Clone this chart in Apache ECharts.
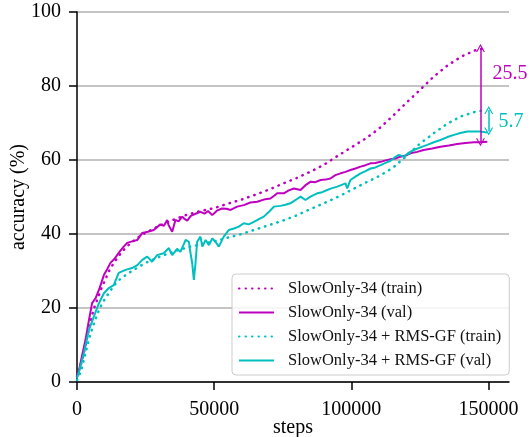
<!DOCTYPE html>
<html>
<head>
<meta charset="utf-8">
<script src="https://cdn.jsdelivr.net/npm/echarts@6/dist/echarts.min.js"></script>
<style>
html, body { margin: 0; padding: 0; background: #fff; }
#main { width: 532px; height: 437px; }
</style>
</head>
<body>
<div id="main"></div>
<script>
// tick labels
var xTicks = [0, 50000, 100000, 150000];
var yTicks = [0, 20, 40, 60, 80, 100];

var seriesNames = ['SlowOnly-34 (train)', 'SlowOnly-34 (val)', 'SlowOnly-34 + RMS-GF (train)', 'SlowOnly-34 + RMS-GF (val)'];

// SlowOnly-34 train (dotted magenta)
var slowTrainSteps = [0, 1500, 3000, 4500, 6000, 7500, 9000, 10500, 12000, 14000, 16000, 18000, 20000, 22500, 25000, 27500, 30000, 32500, 35000, 37500, 40000, 45000, 50000, 55000, 60000, 65000, 70000, 75000, 80000, 85000, 90000, 95000, 100000, 105000, 110000, 115000, 120000, 125000, 130000, 135000, 140000, 145000, 149000];
var slowTrain = [1.5, 5.0, 9.5, 15.0, 19.5, 22.5, 25.5, 28.0, 30.5, 32.8, 34.8, 36.5, 37.8, 39.2, 40.3, 41.3, 42.2, 43.0, 43.8, 44.5, 45.2, 46.2, 47.0, 48.2, 49.3, 50.6, 52.0, 53.6, 55.1, 56.8, 58.7, 61.1, 63.4, 65.7, 68.4, 71.8, 75.4, 78.9, 82.5, 85.5, 87.9, 89.6, 90.3];

// SlowOnly-34 val (solid magenta)
var slowValSteps = [0, 600, 1800, 3100, 4300, 5500, 6800, 8300, 9800, 11000, 12200, 13700, 15200, 16800, 18300, 20100, 22000, 23800, 25800, 28000, 30400, 31700, 32900, 33400, 34700, 35900, 37000, 38400, 39300, 40200, 41500, 43000, 45000, 46500, 47800, 49300, 51000, 52900, 54500, 56000, 58400, 60800, 63200, 65700, 68100, 70500, 72000, 73000, 75400, 77200, 79100, 81500, 83300, 85100, 86900, 88800, 90600, 92400, 94200, 96100, 97900, 99700, 101500, 103400, 105200, 107000, 108800, 110700, 112500, 114300, 116100, 117900, 119800, 121600, 124000, 126400, 129500, 132500, 135600, 138600, 141600, 144700, 147100, 149600];
var slowVal = [2.0, 2.7, 7.0, 11.4, 16.5, 21.3, 22.7, 25.5, 28.9, 30.5, 32.2, 33.3, 34.9, 36.4, 37.6, 38.0, 38.4, 40.3, 40.6, 41.1, 42.6, 42.2, 43.8, 42.4, 40.6, 43.8, 43.4, 44.7, 44.0, 43.6, 44.9, 45.4, 46.0, 45.5, 46.2, 45.1, 46.3, 46.9, 46.8, 46.5, 47.4, 47.8, 48.5, 48.7, 49.3, 49.6, 50.4, 51.0, 51.0, 51.8, 52.3, 51.9, 53.2, 54.1, 54.0, 54.6, 54.7, 55.0, 55.9, 56.4, 56.8, 57.3, 57.7, 58.2, 58.6, 59.1, 59.2, 59.5, 59.9, 60.2, 60.4, 60.9, 61.2, 61.8, 62.2, 62.7, 63.1, 63.6, 63.9, 64.3, 64.6, 64.8, 64.8, 64.9];

// SlowOnly-34 + RMS-GF train (dotted cyan)
var rmsTrainSteps = [0, 1500, 3000, 4500, 6000, 7500, 9000, 10500, 12000, 14000, 16000, 18000, 20000, 25000, 30000, 35000, 40000, 45000, 50000, 55000, 60000, 65000, 70000, 75000, 80000, 85000, 90000, 95000, 100000, 105000, 110000, 115000, 120000, 125000, 130000, 135000, 140000, 145000, 149000];
var rmsTrain = [0.5, 3.0, 7.5, 12.0, 15.5, 18.5, 21.0, 22.8, 24.5, 26.5, 28.0, 29.0, 30.0, 32.2, 33.8, 35.2, 36.3, 37.2, 38.0, 39.0, 40.0, 41.2, 42.4, 43.6, 45.0, 46.7, 48.3, 50.0, 51.9, 53.8, 55.6, 57.8, 61.0, 64.4, 67.2, 69.8, 71.8, 73.0, 73.5];

// SlowOnly-34 + RMS-GF val (solid cyan)
var rmsValSteps = [0, 1000, 2500, 4300, 6100, 8000, 9800, 11600, 13400, 15200, 17700, 20100, 22000, 23800, 25600, 27400, 29200, 31600, 33500, 34700, 36500, 37700, 38800, 39600, 40800, 41400, 42000, 42600, 43200, 43800, 45000, 45700, 46900, 48100, 49300, 50500, 51700, 53500, 55400, 57200, 59000, 60800, 62600, 64500, 66300, 68100, 70000, 71800, 74200, 76000, 77800, 79700, 81500, 83300, 85100, 87600, 89400, 91200, 93000, 94900, 97900, 98500, 99700, 101500, 103400, 105200, 107000, 108800, 110700, 112500, 114300, 116000, 117300, 119200, 121000, 122800, 125200, 127700, 130100, 132500, 135000, 137400, 139800, 142300, 144700, 147100, 149600];
var rmsVal = [1.0, 3.5, 7.8, 14.0, 17.6, 21.3, 24.0, 25.4, 26.2, 29.5, 30.3, 30.8, 31.6, 33.0, 33.9, 32.5, 34.3, 34.8, 36.2, 34.3, 36.0, 35.2, 37.0, 38.4, 37.9, 34.8, 32.1, 27.6, 32.1, 37.9, 39.3, 36.6, 38.4, 37.0, 38.8, 37.9, 36.6, 39.3, 41.1, 41.5, 42.0, 42.9, 42.6, 43.3, 44.0, 44.7, 46.0, 47.4, 47.6, 47.9, 48.3, 49.2, 50.1, 49.2, 50.1, 51.0, 51.3, 51.9, 52.4, 52.8, 53.7, 52.3, 54.6, 55.5, 56.4, 57.0, 57.7, 58.0, 58.6, 59.2, 59.8, 60.8, 61.4, 60.9, 62.0, 62.7, 63.4, 64.1, 64.8, 65.4, 66.2, 66.8, 67.3, 67.7, 67.7, 67.7, 67.4];

// gap annotations: [step, low, high], label, label position [step, value]
var slowGap = [147100, 64.8, 90.3];
var slowGapText = '25.5';
var slowGapLabelAt = [151500, 83.4];
var rmsGap = [150100, 67.7, 73.5];
var rmsGapText = '5.7';
var rmsGapLabelAt = [153700, 70.4];

var MAGENTA = '#bf00bf';
var CYAN = '#00bfbf';
var FONT = 'Liberation Serif';

function zip(xs, ys) {
    var out = [];
    for (var i = 0; i < xs.length; i++) out.push([xs[i], ys[i]]);
    return out;
}

var arrowHead = 'path://M5,0 L10,10 L8.6,10 L5,2.8 L1.4,10 L0,10 Z';

function gapMarks(gap, text, at, color) {
    return {
        markLine: {
            silent: true,
            symbol: [arrowHead, arrowHead],
            symbolSize: [9, 8],
            label: { show: false },
            lineStyle: { color: color, width: 1.5, type: 'solid' },
            data: [[{ coord: [gap[0], gap[1]] }, { coord: [gap[0], gap[2]] }]]
        },
        markPoint: {
            silent: true,
            symbol: 'circle',
            symbolSize: 0,
            label: {
                show: true,
                position: 'right',
                distance: 0,
                formatter: text,
                color: color,
                fontFamily: FONT,
                fontSize: 20
            },
            data: [{ coord: at }]
        }
    };
}

var chart = echarts.init(document.getElementById('main'));

var magValMarks = gapMarks(slowGap, slowGapText, slowGapLabelAt, MAGENTA);
var cyanValMarks = gapMarks(rmsGap, rmsGapText, rmsGapLabelAt, CYAN);

var dotted = [0.5, 6];

var option = {
    animation: false,
    backgroundColor: '#fff',
    textStyle: { fontFamily: FONT },
    grid: { left: 77, top: 12, width: 432, height: 370, containLabel: false, outerBoundsMode: 'none' },
    legend: {
        orient: 'vertical',
        left: 232,
        top: 274,
        padding: [6, 8, 6, 6],
        itemWidth: 35,
        itemHeight: 14,
        itemGap: 7,
        backgroundColor: 'rgba(255,255,255,0.85)',
        borderColor: '#cccccc',
        borderWidth: 1,
        borderRadius: 4,
        itemStyle: { opacity: 0 },
        textStyle: { fontFamily: FONT, fontSize: 16.5, color: '#111', padding: [0, 0, 0, 9] },
        data: seriesNames
    },
    xAxis: {
        type: 'value',
        min: 0,
        max: 157500,
        name: 'steps',
        nameLocation: 'middle',
        nameGap: 36,
        nameMoveOverlap: false,
        nameTextStyle: { fontFamily: FONT, fontSize: 20, color: '#000' },
        axisLine: { lineStyle: { color: '#000', width: 1.5 } },
        axisTick: { length: 8, lineStyle: { color: '#000', width: 1.5 }, customValues: xTicks },
        axisLabel: {
            fontFamily: FONT, fontSize: 20, color: '#000', margin: 18, customValues: xTicks,
            formatter: function (v) { return String(v); }
        },
        splitLine: { show: false }
    },
    yAxis: {
        type: 'value',
        min: 0,
        max: 100,
        interval: 20,
        name: 'accuracy (%)',
        nameLocation: 'middle',
        nameGap: 48,
        nameMoveOverlap: false,
        nameTextStyle: { fontFamily: FONT, fontSize: 20, color: '#000' },
        axisLine: { show: true, lineStyle: { color: '#000', width: 1.5 } },
        axisTick: { show: true, length: 8, lineStyle: { color: '#000', width: 1.5 } },
        axisLabel: { fontFamily: FONT, fontSize: 20, color: '#000', margin: 16 },
        splitLine: { show: true, lineStyle: { color: '#b0b0b0', width: 1.5 } }
    },
    series: [
        {
            name: seriesNames[0],
            type: 'line',
            symbol: 'none',
            color: MAGENTA,
            lineStyle: { color: MAGENTA, width: 2.5, type: dotted, cap: 'round' },
            data: zip(slowTrainSteps, slowTrain)
        },
        {
            name: seriesNames[1],
            type: 'line',
            symbol: 'none',
            color: MAGENTA,
            lineStyle: { color: MAGENTA, width: 2 },
            data: zip(slowValSteps, slowVal),
            markLine: magValMarks.markLine,
            markPoint: magValMarks.markPoint
        },
        {
            name: seriesNames[2],
            type: 'line',
            symbol: 'none',
            color: CYAN,
            lineStyle: { color: CYAN, width: 2.5, type: dotted, cap: 'round' },
            data: zip(rmsTrainSteps, rmsTrain)
        },
        {
            name: seriesNames[3],
            type: 'line',
            symbol: 'none',
            color: CYAN,
            lineStyle: { color: CYAN, width: 2 },
            data: zip(rmsValSteps, rmsVal),
            markLine: cyanValMarks.markLine,
            markPoint: cyanValMarks.markPoint
        }
    ]
};

chart.setOption(option);
</script>
</body>
</html>
